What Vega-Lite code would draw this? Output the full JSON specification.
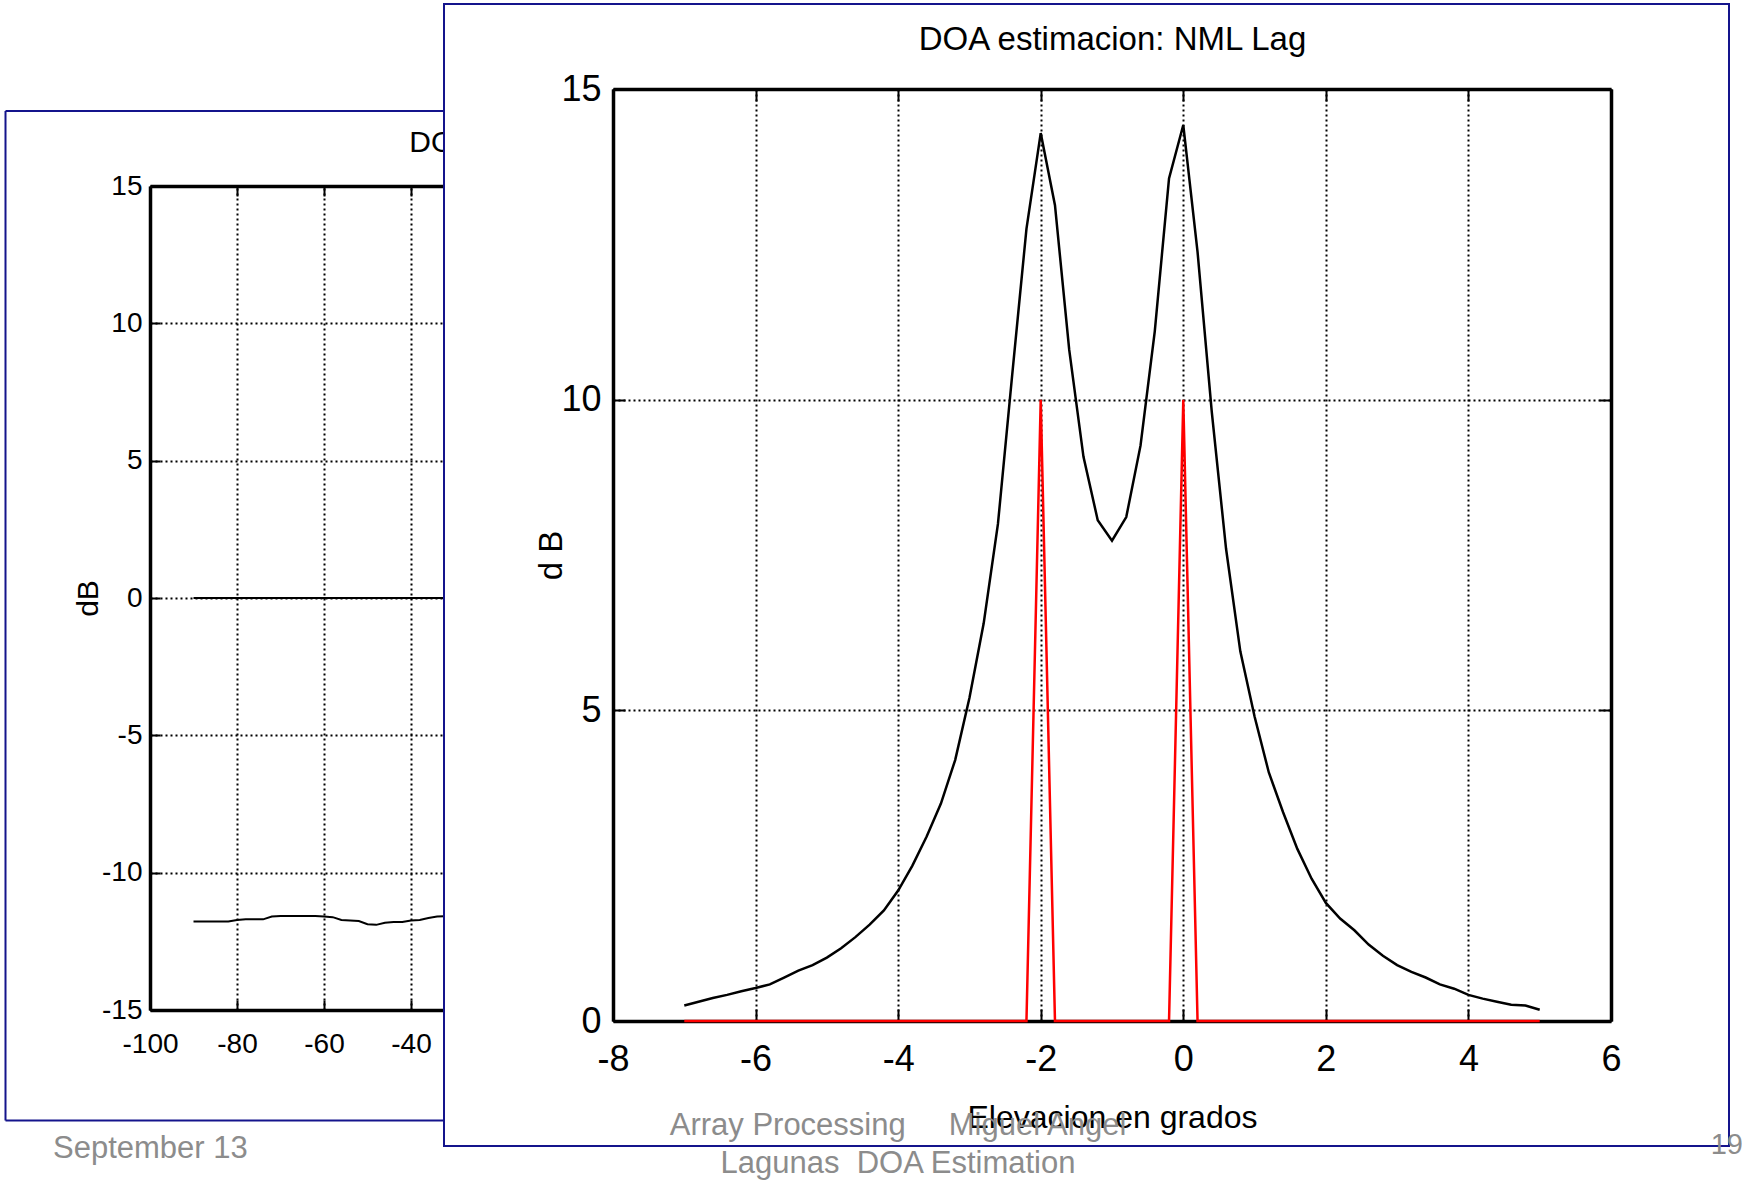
{
  "$schema": "https://vega.github.io/schema/vega-lite/v6.json",
  "background": "white",
  "padding": {"left": 2, "top": 3, "right": 0, "bottom": 0},
  "title": {"text": "19", "orient": "bottom", "anchor": "end", "frame": "bounds", "dx": 13, "dy": -53, "fontSize": 29},
  "spacing": 0,
  "bounds": "flush",
  "datasets": {
    "main": [
      {"angle": -7.0, "nml": 0.25, "peak": 0}, {"angle": -6.8, "nml": 0.31, "peak": 0}, {"angle": -6.6, "nml": 0.37, "peak": 0},
      {"angle": -6.4, "nml": 0.42, "peak": 0}, {"angle": -6.2, "nml": 0.48, "peak": 0}, {"angle": -6.0, "nml": 0.53, "peak": 0},
      {"angle": -5.8, "nml": 0.59, "peak": 0}, {"angle": -5.6, "nml": 0.70, "peak": 0}, {"angle": -5.4, "nml": 0.81, "peak": 0},
      {"angle": -5.2, "nml": 0.90, "peak": 0}, {"angle": -5.0, "nml": 1.02, "peak": 0}, {"angle": -4.8, "nml": 1.17, "peak": 0},
      {"angle": -4.6, "nml": 1.35, "peak": 0}, {"angle": -4.4, "nml": 1.55, "peak": 0}, {"angle": -4.2, "nml": 1.78, "peak": 0},
      {"angle": -4.0, "nml": 2.10, "peak": 0}, {"angle": -3.8, "nml": 2.50, "peak": 0}, {"angle": -3.6, "nml": 2.97, "peak": 0},
      {"angle": -3.4, "nml": 3.50, "peak": 0}, {"angle": -3.2, "nml": 4.20, "peak": 0}, {"angle": -3.0, "nml": 5.20, "peak": 0},
      {"angle": -2.8, "nml": 6.40, "peak": 0}, {"angle": -2.6, "nml": 8.00, "peak": 0}, {"angle": -2.4, "nml": 10.40, "peak": 0},
      {"angle": -2.2, "nml": 12.75, "peak": 0}, {"angle": -2.0, "nml": 14.29, "peak": 10}, {"angle": -1.8, "nml": 13.13, "peak": 0},
      {"angle": -1.6, "nml": 10.80, "peak": 0}, {"angle": -1.4, "nml": 9.08, "peak": 0}, {"angle": -1.2, "nml": 8.06, "peak": 0},
      {"angle": -1.0, "nml": 7.73, "peak": 0}, {"angle": -0.8, "nml": 8.11, "peak": 0}, {"angle": -0.6, "nml": 9.26, "peak": 0},
      {"angle": -0.4, "nml": 11.10, "peak": 0}, {"angle": -0.2, "nml": 13.56, "peak": 0}, {"angle": 0.0, "nml": 14.42, "peak": 10},
      {"angle": 0.2, "nml": 12.38, "peak": 0}, {"angle": 0.4, "nml": 9.80, "peak": 0}, {"angle": 0.6, "nml": 7.60, "peak": 0},
      {"angle": 0.8, "nml": 5.95, "peak": 0}, {"angle": 1.0, "nml": 4.90, "peak": 0}, {"angle": 1.2, "nml": 4.00, "peak": 0},
      {"angle": 1.4, "nml": 3.36, "peak": 0}, {"angle": 1.6, "nml": 2.77, "peak": 0}, {"angle": 1.8, "nml": 2.29, "peak": 0},
      {"angle": 2.0, "nml": 1.90, "peak": 0}, {"angle": 2.2, "nml": 1.65, "peak": 0}, {"angle": 2.4, "nml": 1.46, "peak": 0},
      {"angle": 2.6, "nml": 1.23, "peak": 0}, {"angle": 2.8, "nml": 1.05, "peak": 0}, {"angle": 3.0, "nml": 0.90, "peak": 0},
      {"angle": 3.2, "nml": 0.79, "peak": 0}, {"angle": 3.4, "nml": 0.70, "peak": 0}, {"angle": 3.6, "nml": 0.59, "peak": 0},
      {"angle": 3.8, "nml": 0.52, "peak": 0}, {"angle": 4.0, "nml": 0.42, "peak": 0}, {"angle": 4.2, "nml": 0.36, "peak": 0},
      {"angle": 4.4, "nml": 0.31, "peak": 0}, {"angle": 4.6, "nml": 0.26, "peak": 0}, {"angle": 4.8, "nml": 0.25, "peak": 0},
      {"angle": 5.0, "nml": 0.18, "peak": 0}
    ],
    "wide": [
      {"angle": -90, "upper": 0, "lower": -11.78}, {"angle": -88, "upper": 0, "lower": -11.78}, {"angle": -86, "upper": 0, "lower": -11.78},
      {"angle": -84, "upper": 0, "lower": -11.78}, {"angle": -82, "upper": 0, "lower": -11.78}, {"angle": -80, "upper": 0, "lower": -11.72},
      {"angle": -78, "upper": 0, "lower": -11.70}, {"angle": -76, "upper": 0, "lower": -11.70}, {"angle": -74, "upper": 0, "lower": -11.70},
      {"angle": -72, "upper": 0, "lower": -11.60}, {"angle": -70, "upper": 0, "lower": -11.58}, {"angle": -68, "upper": 0, "lower": -11.58},
      {"angle": -66, "upper": 0, "lower": -11.58}, {"angle": -64, "upper": 0, "lower": -11.58}, {"angle": -62, "upper": 0, "lower": -11.58},
      {"angle": -60, "upper": 0, "lower": -11.60}, {"angle": -58, "upper": 0, "lower": -11.62}, {"angle": -56, "upper": 0, "lower": -11.72},
      {"angle": -54, "upper": 0, "lower": -11.74}, {"angle": -52, "upper": 0, "lower": -11.76}, {"angle": -50, "upper": 0, "lower": -11.88},
      {"angle": -48, "upper": 0, "lower": -11.90}, {"angle": -46, "upper": 0, "lower": -11.82}, {"angle": -44, "upper": 0, "lower": -11.80},
      {"angle": -42, "upper": 0, "lower": -11.80}, {"angle": -40, "upper": 0, "lower": -11.74}, {"angle": -38, "upper": 0, "lower": -11.72},
      {"angle": -36, "upper": 0, "lower": -11.65}, {"angle": -34, "upper": 0, "lower": -11.60}, {"angle": -32, "upper": 0, "lower": -11.58},
      {"angle": -30, "upper": 0, "lower": -11.58}
    ]
  },
  "hconcat": [
    {
      "width": 439, "height": 1116,
      "view": {"stroke": null, "fill": "white"},
      "title": {"text": "September 13", "orient": "bottom", "anchor": "start", "frame": "group", "dx": 48, "offset": 11, "fontSize": 31},
      "data": {"name": "wide"},
      "layer": [
        {
          "mark": {"type": "line", "color": "black", "strokeWidth": 2, "clip": true},
          "encoding": {
            "x": {"field": "angle", "type": "quantitative",
              "scale": {"domain": [-100, 100], "range": [145, 1015], "nice": false, "zero": false},
              "axis": {"orient": "top", "offset": -182, "values": [-100, -80, -60, -40, -20, 0, 20, 40, 60, 80, 100], "grid": true, "labels": false, "tickSize": -10, "title": "DOA estimacion: NML Lag", "titleFontSize": 30, "titlePadding": 28}},
            "y": {"field": "upper", "type": "quantitative",
              "scale": {"domain": [-15, 15], "range": [1006, 182], "nice": false, "zero": false},
              "axis": {"orient": "left", "offset": -145, "values": [-15, -10, -5, 0, 5, 10, 15], "grid": true, "tickSize": -10, "labelFontSize": 28, "labelPadding": 18, "title": "dB", "titleFontSize": 30, "titlePadding": -2}}
          }
        },
        {
          "mark": {"type": "line", "color": "black", "strokeWidth": 2, "clip": true},
          "encoding": {
            "x": {"field": "angle", "type": "quantitative",
              "scale": {"domain": [-100, 100], "range": [145, 1015], "nice": false, "zero": false},
              "axis": {"orient": "bottom", "offset": -110, "values": [-100, -80, -60, -40, -20, 0, 20, 40, 60, 80, 100], "grid": false, "tickSize": -10, "labelFontSize": 28, "labelPadding": 30, "title": null}},
            "y": {"field": "lower", "type": "quantitative",
              "scale": {"domain": [-15, 15], "range": [1006, 182], "nice": false, "zero": false},
              "axis": null}
          }
        },
        {
          "mark": {"type": "point", "opacity": 0},
          "encoding": {
            "x": {"datum": 0, "type": "quantitative",
              "scale": {"domain": [0, 1], "range": [0, 445], "nice": false, "zero": false},
              "axis": {"orient": "top", "offset": -106.5, "ticks": false, "labels": false, "grid": false, "title": null, "domainColor": "#14148c", "domainWidth": 2}},
            "y": {"datum": 0, "type": "quantitative",
              "scale": {"domain": [0, 1], "range": [1116, 106.5], "nice": false, "zero": false},
              "axis": {"orient": "left", "offset": 0, "ticks": false, "labels": false, "grid": false, "title": null, "domainColor": "#14148c", "domainWidth": 2}}
          }
        },
        {
          "mark": {"type": "point", "opacity": 0},
          "encoding": {
            "x": {"datum": 0, "type": "quantitative",
              "scale": {"domain": [0, 1], "range": [0, 445], "nice": false, "zero": false},
              "axis": {"orient": "bottom", "offset": 0, "ticks": false, "labels": false, "grid": false, "title": null, "domainColor": "#14148c", "domainWidth": 2}},
            "y": {"datum": 0, "type": "quantitative",
              "scale": {"domain": [0, 1], "range": [1116, 106.5], "nice": false, "zero": false},
              "axis": null}
          }
        }
      ],
      "resolve": {"scale": {"x": "independent", "y": "independent"}, "axis": {"x": "independent", "y": "independent"}}
    },
    {
      "width": 1285, "height": 1142,
      "view": {"stroke": "#14148c", "strokeWidth": 2, "fill": "white"},
      "title": {"text": ["Array Processing\u00a0\u00a0\u00a0\u00a0 Miguel Angel", "Lagunas\u00a0 DOA Estimation"], "orient": "bottom", "anchor": "start", "align": "center", "frame": "group", "dx": 454, "offset": -35, "fontSize": 31, "lineHeight": 38},
      "data": {"name": "main"},
      "layer": [
        {
          "mark": {"type": "line", "color": "black", "strokeWidth": 2.5, "clip": true},
          "encoding": {
            "x": {"field": "angle", "type": "quantitative",
              "scale": {"domain": [-8, 6], "range": [169, 1167], "nice": false, "zero": false},
              "axis": {"orient": "top", "offset": -85, "values": [-8, -6, -4, -2, 0, 2, 4, 6], "grid": true, "labels": false, "title": "DOA estimacion: NML Lag", "titleFontSize": 33, "titlePadding": 32}},
            "y": {"field": "nml", "type": "quantitative",
              "scale": {"domain": [0, 15], "range": [1017, 85], "nice": false, "zero": false},
              "axis": {"orient": "left", "offset": -169, "values": [0, 5, 10, 15], "grid": true, "labelFontSize": 36, "labelPadding": 24, "title": "d B", "titleFontSize": 33, "titlePadding": -8}}
          }
        },
        {
          "mark": {"type": "line", "color": "#ff0000", "strokeWidth": 2.5, "clip": true},
          "encoding": {
            "x": {"field": "angle", "type": "quantitative",
              "axis": {"orient": "bottom", "offset": -125, "values": [-8, -6, -4, -2, 0, 2, 4, 6], "grid": false, "labelFontSize": 36, "labelPadding": 33, "title": "Elevacion en grados", "titleFontSize": 32, "titlePadding": 25}},
            "y": {"field": "peak", "type": "quantitative",
              "axis": {"orient": "right", "offset": -118, "values": [0, 5, 10, 15], "grid": false, "labels": false, "title": null}}
          }
        }
      ],
      "resolve": {"axis": {"x": "independent", "y": "independent"}}
    }
  ],
  "config": {
    "axis": {
      "domainColor": "black", "domainWidth": 3.5, "tickColor": "black", "tickWidth": 2, "tickSize": -12,
      "gridColor": "black", "gridDash": [2, 3], "gridWidth": 2, "gridOpacity": 1,
      "labelColor": "black", "labelFont": "Liberation Sans, Arial, sans-serif",
      "labelExpr": "datum.value < 0 ? '-' + (-datum.value) : '' + datum.value",
      "titleFont": "Liberation Sans, Arial, sans-serif", "titleFontWeight": "normal", "titleColor": "black",
      "labelFlush": false, "labelOverlap": false, "labelBound": false
    },
    "title": {"font": "Liberation Sans, Arial, sans-serif", "fontWeight": "normal", "color": "#8c8c8c"}
  }
}
